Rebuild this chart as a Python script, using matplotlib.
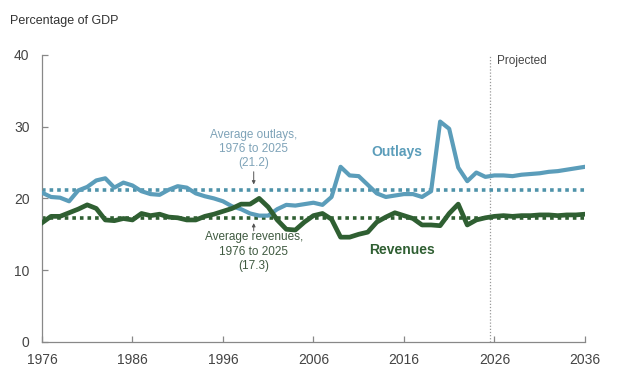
import numpy as np
import matplotlib
matplotlib.use("Agg")
import matplotlib.pyplot as plt

plt.rcParams["font.family"] = ["Liberation Sans Narrow", "Liberation Sans", "DejaVu Sans"]

# Data: federal outlays and revenues, percentage of GDP
years = list(range(1976, 2037))
outlays = [
    20.8, 20.2, 20.1, 19.6, 21.1, 21.6, 22.5, 22.8, 21.5, 22.2,  # 1976-1985
    21.8, 21.0, 20.6, 20.5, 21.2, 21.7, 21.5, 20.7, 20.3, 20.0,  # 1986-1995
    19.6, 18.9, 18.5, 17.9, 17.6, 17.6, 18.5, 19.1, 19.0, 19.2,  # 1996-2005
    19.4, 19.1, 20.2, 24.4, 23.2, 23.1, 21.9, 20.7, 20.2, 20.4,  # 2006-2015
    20.6, 20.6, 20.2, 21.0, 30.7, 29.7, 24.3, 22.4, 23.6, 23.0,  # 2016-2025
    23.2, 23.2, 23.1, 23.3, 23.4, 23.5, 23.7, 23.8, 24.0, 24.2,  # 2026-2035
    24.4,                                                        # 2036
]
revenues = [
    16.6, 17.5, 17.5, 18.0, 18.5, 19.1, 18.6, 17.0, 16.9, 17.2,
    17.0, 17.9, 17.6, 17.8, 17.4, 17.3, 17.0, 17.0, 17.5, 17.8,
    18.2, 18.6, 19.2, 19.2, 20.0, 18.8, 17.0, 15.7, 15.6, 16.7,
    17.6, 17.9, 17.1, 14.6, 14.6, 15.0, 15.3, 16.7, 17.4, 18.0,
    17.6, 17.2, 16.3, 16.3, 16.2, 17.9, 19.2, 16.3, 17.0, 17.3,
    17.5, 17.6, 17.5, 17.6, 17.6, 17.7, 17.7, 17.6, 17.7, 17.7,
    17.8,
]
avg_outlays = 21.2
avg_revenues = 17.3
projection_start = 2025.5
xticks = [1976, 1986, 1996, 2006, 2016, 2026, 2036]
yticks = [0, 10, 20, 30, 40]

outlay_color = "#5b9dba"
revenue_color = "#2f5f32"
avg_outlay_color = "#4f93aa"
avg_revenue_color = "#2f5f32"

fig = plt.figure(figsize=(6.17, 3.86), dpi=100)
ax = fig.add_axes([0.068, 0.114, 0.880, 0.744])

# average lines
ax.axhline(avg_outlays, color=avg_outlay_color, lw=2.6, ls=(0, (1, 1.1)), zorder=2)
ax.axhline(avg_revenues, color=avg_revenue_color, lw=2.6, ls=(0, (1, 1.1)), zorder=2)

# projection divider
ax.axvline(projection_start, ymin=0, ymax=0.995, color="#999999", lw=0.9, ls=(0, (1, 1.5)), zorder=1)
ax.text(2026.3, 39.2, "Projected", fontsize=8.5, color="#444444", va="center", ha="left")

# main series
ax.plot(years, outlays, color=outlay_color, lw=3.0, solid_joinstyle="round", zorder=3)
ax.plot(years, revenues, color=revenue_color, lw=3.4, solid_joinstyle="round", zorder=4)

# series labels
ax.text(2015.2, 26.4, "Outlays", fontsize=10, fontweight="bold", color=outlay_color, ha="center", va="center")
ax.text(2015.8, 12.8, "Revenues", fontsize=10, fontweight="bold", color=revenue_color, ha="center", va="center")

# average annotations
ax.text(1999.4, 26.9, "Average outlays,\n1976 to 2025\n(21.2)", fontsize=8.5,
        color="#7fa3b8", ha="center", va="center", linespacing=1.25)
ax.annotate("", xy=(1999.4, 21.55), xytext=(1999.4, 24.1),
            arrowprops=dict(arrowstyle="-|>", color="#555555", lw=0.7, mutation_scale=5))
ax.text(1999.4, 12.6, "Average revenues,\n1976 to 2025\n(17.3)", fontsize=8.5,
        color="#3f5a40", ha="center", va="center", linespacing=1.25)
ax.annotate("", xy=(1999.4, 16.95), xytext=(1999.4, 15.1),
            arrowprops=dict(arrowstyle="-|>", color="#555555", lw=0.7, mutation_scale=5))

ax.set_xlim(1976, 2036)
ax.set_ylim(0, 40)
ax.set_xticks(xticks)
ax.set_yticks(yticks)
ax.tick_params(direction="in", length=4, width=0.9, color="#888888",
               labelcolor="#444444", labelsize=10)
ax.tick_params(axis="x", pad=8)
ax.tick_params(axis="y", pad=9)
for side in ["top", "right"]:
    ax.spines[side].set_visible(False)
for side in ["left", "bottom"]:
    ax.spines[side].set_color("#888888")
    ax.spines[side].set_linewidth(0.9)

fig.text(0.016, 0.945, "Percentage of GDP", fontsize=9, color="#333333", ha="left", va="center")

plt.savefig("out.png", dpi=100)
